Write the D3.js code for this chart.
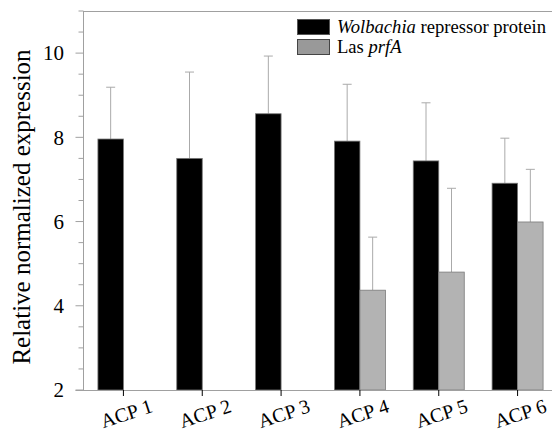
<!DOCTYPE html>
<html><head><meta charset="utf-8">
<script src="https://cdn.jsdelivr.net/npm/d3@7"></script>
<style>body{margin:0;background:#fff}svg{display:block}
svg text{font-family:"Liberation Serif","Times New Roman","DejaVu Serif",serif}</style>
</head><body>
<svg id="c" width="552" height="434" font-family="Liberation Serif, serif"></svg>
<script>
const categories = ["ACP 1","ACP 2","ACP 3","ACP 4","ACP 5","ACP 6"];
const wolbachia = [7.96, 7.50, 8.56, 7.91, 7.44, 6.91];
const wolbachiaErr = [9.19, 9.55, 9.93, 9.26, 8.82, 7.98];
const las = [null, null, null, 4.37, 4.80, 5.99];
const lasErr = [null, null, null, 5.63, 6.79, 7.24];
const yTicks = [2,4,6,8,10];

const svg = d3.select("#c");
const W = 552, H = 434;
const x0 = 83.5, yTop = 11, yBot = 390;
const x = d3.scaleBand().domain(categories).range([84, 557]);
const y = d3.scaleLinear().domain([2, 11]).range([yBot, yTop]);
const bw = 25.5;
const axisCol = "#a0a0a0";

const g = svg.append("g");
categories.forEach((c, i) => {
  const cx = x(c) + x.bandwidth()/2;
  const drawErr = (xc, v, e) => {
    g.append("line").attr("x1", xc).attr("x2", xc).attr("y1", y(v)).attr("y2", y(e))
      .attr("stroke", "#aaa").attr("stroke-width", 1);
    g.append("line").attr("x1", xc-4.5).attr("x2", xc+4.5).attr("y1", y(e)).attr("y2", y(e))
      .attr("stroke", "#aaa").attr("stroke-width", 1);
  };
  drawErr(cx - bw/2, wolbachia[i], wolbachiaErr[i]);
  g.append("rect").attr("x", cx - bw).attr("y", y(wolbachia[i])).attr("width", bw)
    .attr("height", y(2) - y(wolbachia[i])).attr("fill", "#000").attr("stroke", "#777").attr("stroke-width", 0.8);
  if (las[i] != null) {
    drawErr(cx + bw/2, las[i], lasErr[i]);
    g.append("rect").attr("x", cx).attr("y", y(las[i])).attr("width", bw)
      .attr("height", y(2) - y(las[i])).attr("fill", "#b3b3b3").attr("stroke", "#7a7a7a").attr("stroke-width", 0.8);
  }
});

const ya = svg.append("g");
ya.append("line").attr("x1", x0).attr("x2", x0).attr("y1", yTop).attr("y2", yBot).attr("stroke", axisCol);
d3.range(2, 11.01, 0.5).forEach(v => {
  const major = Math.abs(v - Math.round(v/2)*2) < 1e-6;
  ya.append("line").attr("x1", major ? x0 - 8 : x0 - 5).attr("x2", x0)
    .attr("y1", y(v)).attr("y2", y(v)).attr("stroke", axisCol);
});
yTicks.forEach(v => {
  ya.append("text").attr("x", 64).attr("y", y(v)).attr("dy", "0.35em").attr("text-anchor", "end")
    .attr("font-size", 21).attr("fill", "#000").text(v);
});
svg.append("line").attr("x1", x0).attr("x2", W).attr("y1", yTop + 0.5).attr("y2", yTop + 0.5).attr("stroke", axisCol);

svg.append("line").attr("x1", x0 - 8).attr("x2", W).attr("y1", yBot + 0.5).attr("y2", yBot + 0.5).attr("stroke", axisCol);
categories.forEach(c => {
  const cx = x(c) + x.bandwidth()/2;
  svg.append("line").attr("x1", cx).attr("x2", cx).attr("y1", yBot).attr("y2", yBot + 6).attr("stroke", "#000");
  svg.append("text").attr("transform", `translate(${cx + 5},${420}) rotate(-18)`)
    .attr("text-anchor", "middle").attr("font-size", 20).attr("fill", "#000").text(c);
});

svg.append("text").attr("transform", `translate(30,${207}) rotate(-90)`).attr("text-anchor", "middle")
  .attr("font-size", 25).attr("fill", "#000").text("Relative normalized expression");

const lg = svg.append("g").attr("font-size", 18.6);
lg.append("rect").attr("x", 297.5).attr("y", 19.5).attr("width", 32).attr("height", 15).attr("fill", "#000").attr("stroke", "#555");
lg.append("rect").attr("x", 297.5).attr("y", 39.5).attr("width", 32).attr("height", 15).attr("fill", "#999").attr("stroke", "#444");
const t1 = lg.append("text").attr("x", 337).attr("y", 33);
t1.append("tspan").attr("font-style", "italic").text("Wolbachia");
t1.append("tspan").text(" repressor protein");
const t2 = lg.append("text").attr("x", 337).attr("y", 52.5);
t2.append("tspan").text("Las ");
t2.append("tspan").attr("font-style", "italic").text("prfA");
</script>
</body></html>
